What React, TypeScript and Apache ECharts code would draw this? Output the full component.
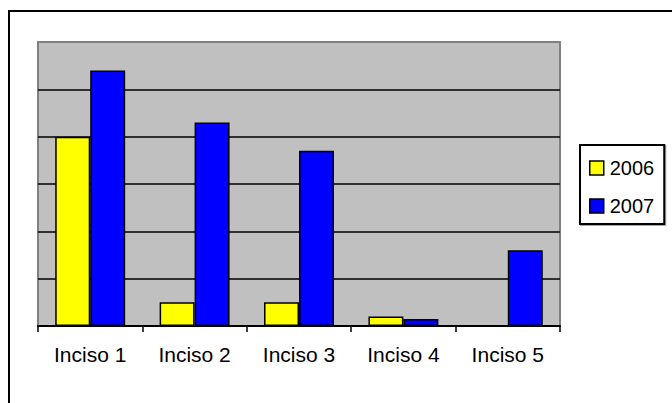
import React, { useEffect, useRef } from "react";
import * as echarts from "echarts";

const categories = ["Inciso 1", "Inciso 2", "Inciso 3", "Inciso 4", "Inciso 5"];
const values2006 = [4.0, 0.5, 0.5, 0.2, 0];
const values2007 = [5.4, 4.3, 3.7, 0.15, 1.6];
const seriesNames = ["2006", "2007"];

export default function App() {
  const ref = useRef<HTMLDivElement>(null);
  useEffect(() => {
    if (!ref.current) return;
    const chart = echarts.init(ref.current, undefined, { renderer: "svg" });
    const font = "Arial, 'Liberation Sans', sans-serif";
    chart.setOption({
      animation: false,
      backgroundColor: "#ffffff",
      graphic: [
        {
          type: "rect",
          shape: { x: 9, y: 11, width: 700, height: 420 },
          style: { fill: "none", stroke: "#000000", lineWidth: 2 },
          z: 100,
        },
      ],
      grid: {
        left: 38,
        top: 42,
        width: 522,
        height: 284,
        show: true,
        backgroundColor: "#C0C0C0",
        borderColor: "#808080",
        borderWidth: 2,
      },
      legend: {
        orient: "vertical",
        left: 580,
        top: 145,
        padding: [13, 10, 8, 9],
        itemGap: 18,
        itemWidth: 14,
        itemHeight: 14,
        icon: "rect",
        borderColor: "#000000",
        borderWidth: 2,
        backgroundColor: "#ffffff",
        shadowColor: "rgba(0,0,0,0.35)",
        shadowOffsetX: 1,
        shadowOffsetY: 1,
        itemStyle: { borderColor: "#000000", borderWidth: 1.5 },
        textStyle: { fontFamily: font, fontSize: 20, color: "#000000", padding: [0, 0, 0, 1] },
        data: seriesNames,
      },
      xAxis: {
        type: "category",
        data: categories,
        axisLine: { lineStyle: { color: "#000000", width: 2 } },
        axisTick: { show: true, length: 6, lineStyle: { color: "#000000", width: 1.5 } },
        axisLabel: { fontFamily: font, fontSize: 21, color: "#000000", margin: 18 },
        splitLine: { show: false },
      },
      yAxis: {
        type: "value",
        min: 0,
        max: 6,
        interval: 1,
        axisLabel: { show: false },
        axisTick: { show: false },
        axisLine: { show: false },
        splitLine: {
          show: true,
          lineStyle: {
            color: ["#000000", "#000000", "#000000", "#000000", "#000000", "#000000", "#808080"],
            width: 1.5,
          },
        },
      },
      series: [
        {
          name: seriesNames[0],
          type: "bar",
          data: values2006,
          barGap: "0%",
          barCategoryGap: "33%",
          itemStyle: { color: "#FFFF00", borderColor: "#000000", borderWidth: 1.5 },
        },
        {
          name: seriesNames[1],
          type: "bar",
          data: values2007,
          barGap: "0%",
          barCategoryGap: "33%",
          itemStyle: { color: "#0000FF", borderColor: "#000000", borderWidth: 1.5 },
        },
      ],
    });
    return () => chart.dispose();
  }, []);
  return (
    <div
      ref={ref}
      style={{ position: "absolute", left: 0, top: 0, width: 672, height: 403 }}
    />
  );
}
